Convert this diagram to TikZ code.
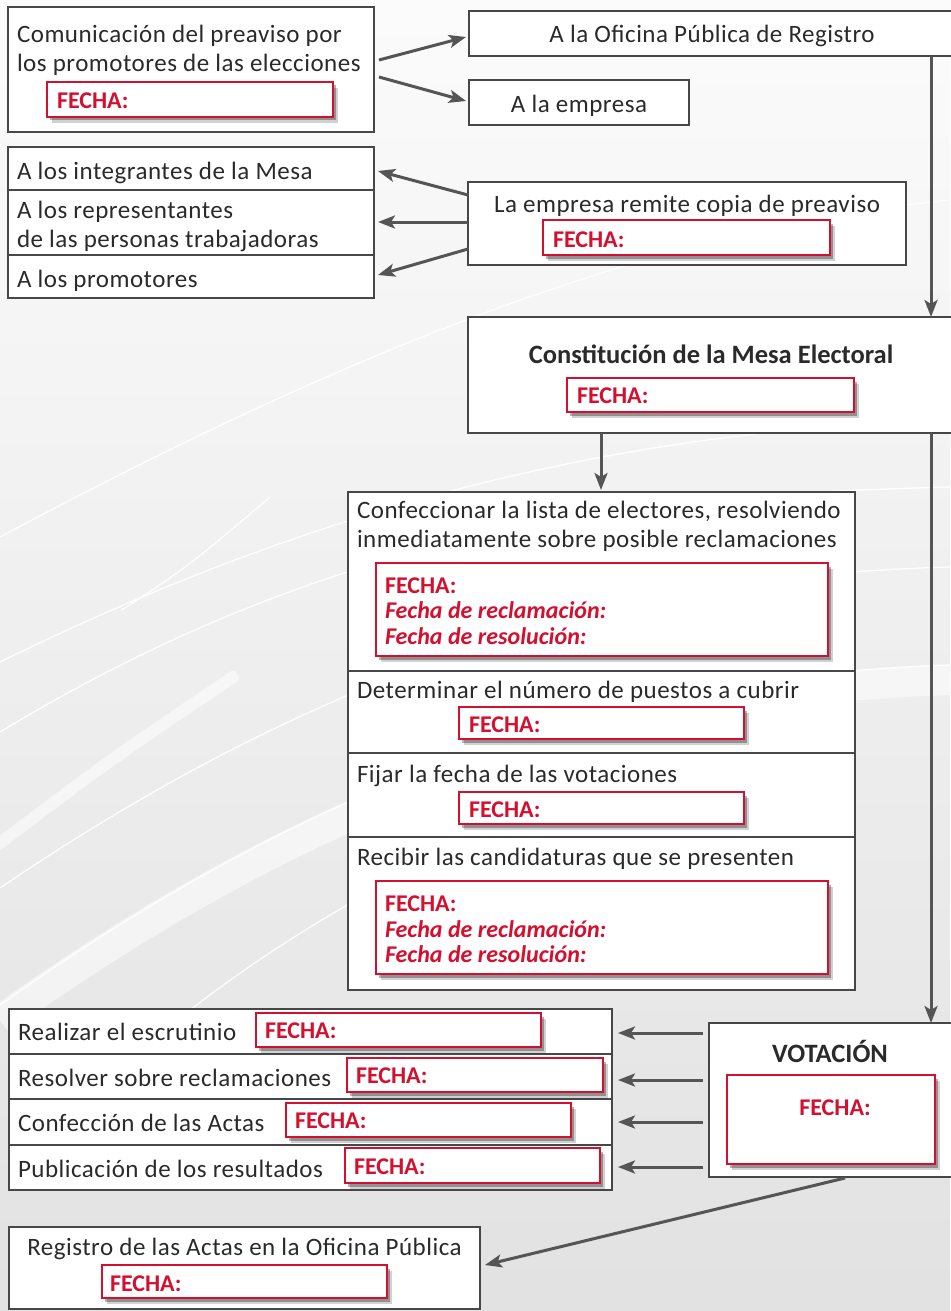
\documentclass[tikz,border=0pt]{standalone}
\usepackage{fontspec}
\setmainfont{Carlito}
\newfontfamily\regf[LetterSpace=2]{Carlito}
\usetikzlibrary{arrows.meta,shadows}
\definecolor{redc}{HTML}{D3102F}
\definecolor{edgec}{HTML}{474747}
\definecolor{arrc}{HTML}{555555}
\definecolor{txtc}{HTML}{2A2A2A}
\tikzset{
 box/.style={draw=edgec, line width=1.4pt, fill=white, inner sep=0pt, outer sep=0pt},
 rbox/.style={draw=redc, line width=1.8pt, fill=white, inner sep=0pt, outer sep=0pt,
   general shadow={shadow xshift=5pt, shadow yshift=-6pt, fill=black, opacity=0.18},
   general shadow={shadow xshift=3pt, shadow yshift=-3.5pt, fill=black, opacity=0.3}},
 txt/.style={inner sep=0pt, outer sep=0pt, text=txtc, font=\regf\fontsize{25}{30}\selectfont},
 ttl/.style={inner sep=0pt, outer sep=0pt, text=txtc, font=\fontsize{26.5}{30}\selectfont\bfseries},
 fecha/.style={inner sep=0pt, outer sep=0pt, text=redc, font=\fontsize{24}{28}\selectfont\bfseries},
 fechai/.style={fecha, font=\fontsize{24}{28}\selectfont\bfseries\itshape},
 arr/.style={draw=arrc, line width=3pt, -{Stealth[length=17pt,width=13pt,inset=4pt]}},
 swoosh/.style={draw=white, line width=1.3pt, opacity=0.95},
}
\newcommand\mkbox[6]{\pgfmathsetmacro\myW{#5-#3}\pgfmathsetmacro\myH{#6-#4}%
 \node[#1, anchor=north west, minimum width=\myW pt, minimum height=\myH pt] (#2) at (#3,#4) {};}
\begin{document}
\begin{tikzpicture}[x=1pt,y=-1pt]
\useasboundingbox (0,0) rectangle (950,1311);
% background
\shade[top color=white!98.5!black, bottom color=white!88.5!black] (0,0) rectangle (950,1311);
\draw[swoosh] (0,537) .. controls (350,350) and (650,230) .. (950,200);
\draw[swoosh] (0,662) .. controls (350,490) and (650,430) .. (950,420);
\draw[swoosh] (0,732) .. controls (350,520) and (650,495) .. (950,487);
\draw[swoosh] (122,610) .. controls (190,565) .. (270,497);
\draw[draw=white, line width=12pt, line cap=round, opacity=0.55] (0,843) .. controls (110,760) .. (233,677);
\draw[swoosh] (0,888) .. controls (350,650) and (650,575) .. (950,567);
\draw[draw=white, line width=30pt, opacity=0.5] (0,1020) .. controls (350,770) and (650,690) .. (950,680);
\draw[swoosh] (0,1005) .. controls (350,755) and (650,675) .. (950,665);
\draw[swoosh] (190,1010) .. controls (300,925) and (420,860) .. (560,800);
% top-left
\mkbox{box}{prev}{8}{7}{374}{132}
\node[txt,anchor=base west] (prevA) at (17,43) {Comunicación del preaviso por};
\node[txt,anchor=base west] (prevB) at (17,72) {los promotores de las elecciones};
\mkbox{rbox}{prevF}{47}{82}{333}{117}
\node[fecha,anchor=base west] (prevFt) at (57,109) {FECHA:};
% right top
\mkbox{box}{ofi}{469}{11}{953}{56}
\node[txt,anchor=base] (ofiT) at (712,43) {A la Oficina Pública de Registro};
\mkbox{box}{emp}{469}{80}{689}{125}
\node[txt,anchor=base] (empT) at (579,113) {A la empresa};
% left stack
\mkbox{box}{integ}{8}{147}{374}{190}
\node[txt,anchor=base west] (integT) at (17,179) {A los integrantes de la Mesa};
\mkbox{box}{repr}{8}{190}{374}{255}
\node[txt,anchor=base west] (reprA) at (17,218) {A los representantes};
\node[txt,anchor=base west] (reprB) at (17,247) {de las personas trabajadoras};
\mkbox{box}{prom}{8}{255}{374}{298}
\node[txt,anchor=base west] (promT) at (17,287) {A los promotores};
% remite
\mkbox{box}{rem}{468}{182}{906}{265}
\node[txt,anchor=base] (remT) at (687,212) {La empresa remite copia de preaviso};
\mkbox{rbox}{remF}{543}{220}{830}{255}
\node[fecha,anchor=base west] (remFt) at (553,247) {FECHA:};
% constitucion
\mkbox{box}{const}{468}{317}{953}{433}
\node[ttl,anchor=base] (constT) at (711,363) {Constitución de la Mesa Electoral};
\mkbox{rbox}{constF}{567}{378}{854}{412}
\node[fecha,anchor=base west] (constFt) at (577,403) {FECHA:};
% big box sections
\mkbox{box}{sec1}{348}{492}{855}{671}
\mkbox{box}{sec2}{348}{671}{855}{753}
\mkbox{box}{sec3}{348}{753}{855}{837}
\mkbox{box}{sec4}{348}{837}{855}{990}
\node[txt,anchor=base west] (s1A) at (357,518) {Confeccionar la lista de electores, resolviendo};
\node[txt,anchor=base west] (s1B) at (357,547) {inmediatamente sobre posible reclamaciones};
\mkbox{rbox}{s1F}{376}{563}{828}{656}
\node[fecha,anchor=base west] (s1Fa) at (385,593) {FECHA:};
\node[fechai,anchor=base west] (s1Fb) at (385,618) {Fecha de reclamación:};
\node[fechai,anchor=base west] (s1Fc) at (385,644) {Fecha de resolución:};
\node[txt,anchor=base west] (s2T) at (357,698) {Determinar el número de puestos a cubrir};
\mkbox{rbox}{s2F}{459}{707}{744}{739}
\node[fecha,anchor=base west] (s2Ft) at (469,732) {FECHA:};
\node[txt,anchor=base west] (s3T) at (357,782) {Fijar la fecha de las votaciones};
\mkbox{rbox}{s3F}{459}{792}{744}{824}
\node[fecha,anchor=base west] (s3Ft) at (469,817) {FECHA:};
\node[txt,anchor=base west] (s4T) at (357,865) {Recibir las candidaturas que se presenten};
\mkbox{rbox}{s4F}{376}{881}{828}{974}
\node[fecha,anchor=base west] (s4Fa) at (385,911) {FECHA:};
\node[fechai,anchor=base west] (s4Fb) at (385,937) {Fecha de reclamación:};
\node[fechai,anchor=base west] (s4Fc) at (385,962) {Fecha de resolución:};
% bottom rows
\mkbox{box}{r1}{9}{1009}{612}{1054}
\mkbox{box}{r2}{9}{1054}{612}{1099}
\mkbox{box}{r3}{9}{1099}{612}{1145}
\mkbox{box}{r4}{9}{1145}{612}{1190}
\node[txt,anchor=base west] (r1T) at (18,1040) {Realizar el escrutinio};
\node[txt,anchor=base west] (r2T) at (18,1086) {Resolver sobre reclamaciones};
\node[txt,anchor=base west] (r3T) at (18,1131) {Confección de las Actas};
\node[txt,anchor=base west] (r4T) at (18,1177) {Publicación de los resultados};
\mkbox{rbox}{r1F}{256}{1013}{541}{1047}
\node[fecha,anchor=base west] (r1Ft) at (265,1038) {FECHA:};
\mkbox{rbox}{r2F}{347}{1058}{603}{1092}
\node[fecha,anchor=base west] (r2Ft) at (356,1083) {FECHA:};
\mkbox{rbox}{r3F}{286}{1103}{571}{1137}
\node[fecha,anchor=base west] (r3Ft) at (295,1128) {FECHA:};
\mkbox{rbox}{r4F}{345}{1148}{600}{1183}
\node[fecha,anchor=base west] (r4Ft) at (354,1174) {FECHA:};
% votacion
\mkbox{box}{vot}{709}{1023}{953}{1177}
\node[ttl,anchor=base] (votT) at (830,1062) {VOTACIÓN};
\mkbox{rbox}{votF}{727}{1075}{935}{1164}
\node[fecha,anchor=base] (votFt) at (835,1115) {FECHA:};
% registro
\mkbox{box}{reg}{9}{1227}{480}{1309}
\node[txt,anchor=base] (regT) at (244.5,1255) {Registro de las Actas en la Oficina Pública};
\mkbox{rbox}{regF}{102}{1265}{387}{1298}
\node[fecha,anchor=base west] (regFt) at (110,1291) {FECHA:};
% arrows
\draw[arr] ([xshift=5pt,yshift=9.5pt]prev.east) -- ([xshift=-3pt,yshift=-3.5pt]ofi.west);
\draw[arr] ([xshift=5pt,yshift=-7.5pt]prev.east) -- ([xshift=-3pt,yshift=1.5pt]emp.west);
\draw[arr] ([yshift=28.5pt]rem.west) -- ([xshift=4pt,yshift=-2.5pt]integ.east);
\draw[arr] ([yshift=1.5pt]rem.west) -- ([xshift=4pt,yshift=0.5pt]repr.east);
\draw[arr] ([yshift=-25.5pt]rem.west) -- ([xshift=4pt,yshift=1.5pt]prom.east);
\draw[arr] ([xshift=-22pt]ofi.south east) -- ([xshift=-22pt]const.north east);
\draw[arr] ([xshift=133pt]const.south west) -- ([xshift=253pt,yshift=2pt]sec1.north west);
\draw[arr] ([xshift=-22pt]const.south east) -- ([xshift=-22pt]vot.north east);
\draw[arr] ([xshift=-6pt,yshift=-1.5pt]vot.west |- r1.east) -- ([xshift=6pt,yshift=-1.5pt]r1.east);
\draw[arr] ([xshift=-6pt,yshift=-3.5pt]vot.west |- r2.east) -- ([xshift=6pt,yshift=-3.5pt]r2.east);
\draw[arr] ([xshift=-6pt]vot.west |- r3.east) -- ([xshift=6pt]r3.east);
\draw[arr] ([xshift=-6pt,yshift=0.5pt]vot.west |- r4.east) -- ([xshift=6pt,yshift=0.5pt]r4.east);
\draw[arr] ([xshift=14pt,yshift=-1pt]vot.south) -- ([xshift=5pt,yshift=3pt]reg.east);
\end{tikzpicture}
\end{document}
